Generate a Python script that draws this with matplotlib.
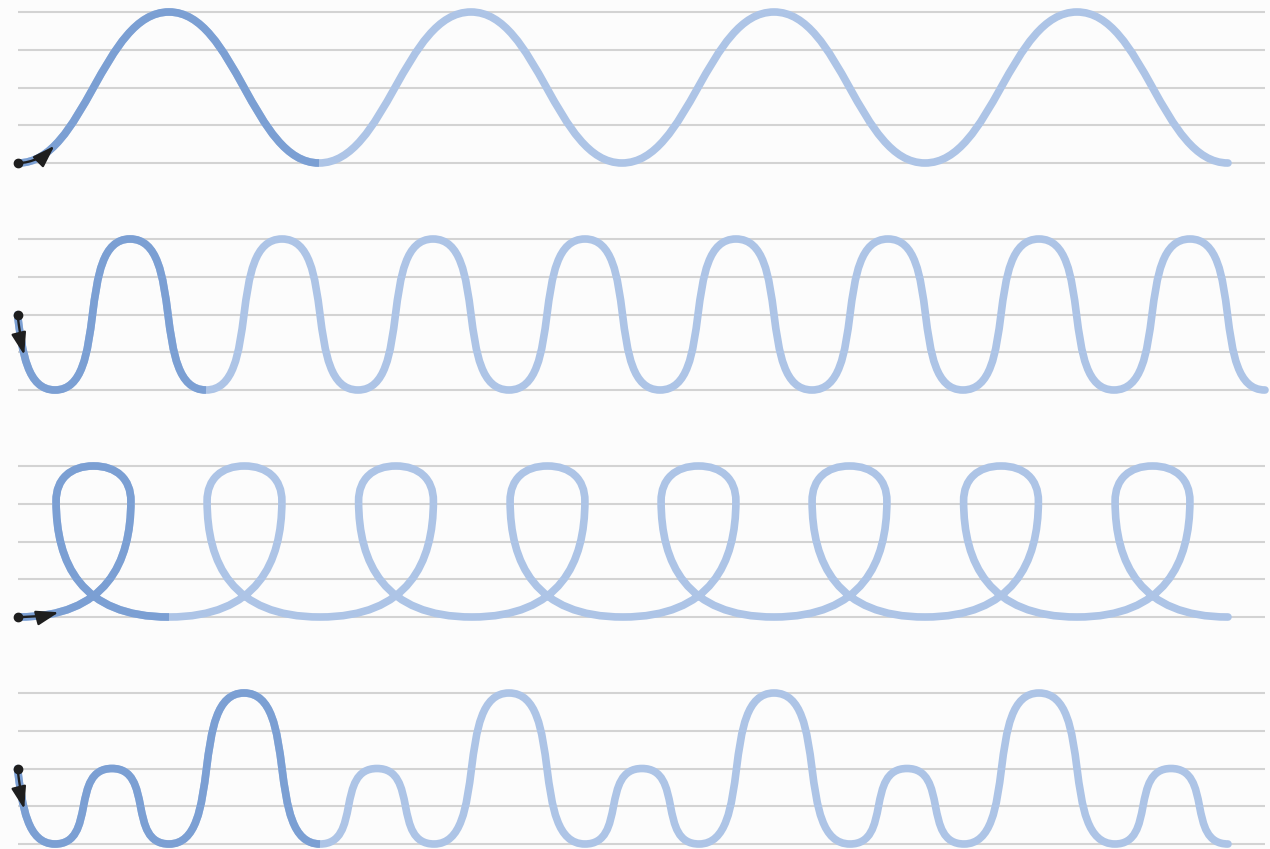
import numpy as np
import matplotlib
matplotlib.use("Agg")
import matplotlib.pyplot as plt
from matplotlib.path import Path
from matplotlib.patches import PathPatch, FancyArrowPatch

# ---------------- data (x in pixels, y in ruled-line units 0..4) ----------------
row_base = [163, 390, 617, 844]          # pixel y of each row's bottom rule
line_levels = [0, 1, 2, 3, 4]

row1_knot_x = [18, 169, 319, 471, 622, 774, 925, 1077, 1228]
row1_knot_y = [0, 4, 0, 4, 0, 4, 0, 4, 0]

row2_knot_x = [-20, 55, 130, 206, 282, 358, 433, 509, 585, 660, 736, 812,
               888, 963, 1039, 1114, 1190, 1265]
row2_knot_y = [4, 0, 4, 0, 4, 0, 4, 0, 4, 0, 4, 0, 4, 0, 4, 0, 4, 0]

row3_loop_x = [18, 169, 320, 472, 623, 774, 925, 1077, 1228]

row4_knot_x = [-20, 55, 112, 169, 244, 320, 377, 434, 509, 585, 642, 699,
               774, 850, 907, 964, 1039, 1115, 1171, 1228]
row4_knot_y = [4, 0, 2, 0, 4, 0, 2, 0, 4, 0, 2, 0, 4, 0, 2, 0, 4, 0, 2, 0]

# number of leading segments drawn in the darker colour
row1_dark = 2
row2_dark = 3
row3_dark = 1
row4_dark = 5

# ---------------- style ----------------
GAP = 37.75
BG = "#fcfcfc"
RULE = "#d3d3d3"
DARK = "#7b9fd3"
LIGHT = "#adc4e6"
LW = 5.5

fig = plt.figure(figsize=(12.7, 8.49), dpi=100, facecolor=BG)
ax = fig.add_axes([0, 0, 1, 1])
ax.set_facecolor(BG)
ax.set_xlim(0, 1270)
ax.set_ylim(849, 0)
ax.axis("off")


def split_at(seg, t):
    p0, p1, p2, p3 = [np.asarray(p, float) for p in seg]
    p01 = p0 + (p1 - p0) * t
    p12 = p1 + (p2 - p1) * t
    p23 = p2 + (p3 - p2) * t
    p012 = p01 + (p12 - p01) * t
    p123 = p12 + (p23 - p12) * t
    m = p012 + (p123 - p012) * t
    return [p0, p01, p012, m], [m, p123, p23, p3]


def arch_segments(xs, ys, base, a, lead_in):
    segs = []
    for i in range(len(xs) - 1):
        x0, x1 = xs[i], xs[i + 1]
        y0, y1 = base - ys[i] * GAP, base - ys[i + 1] * GAP
        d = (x1 - x0) * a
        segs.append([(x0, y0), (x0 + d, y0), (x1 - d, y1), (x1, y1)])
    if lead_in:
        segs[0] = split_at(segs[0], 0.5)[1]
    return segs


def loop_segments(xs, base):
    R, side_h, top_h = 37.4, 116.0, 151.0
    h1, h2, k, kx = 88.0, 62.0, 22.0, 23.0
    segs = []
    b = base
    for i in range(len(xs) - 1):
        x0, x1 = xs[i], xs[i + 1]
        c = (x0 + x1) / 2
        segs.append([(x0, b), (x0 + h1, b), (c + R, b - side_h + h2), (c + R, b - side_h)])
        segs.append([(c + R, b - side_h), (c + R, b - side_h - k), (c + kx, b - top_h), (c, b - top_h)])
        segs.append([(c, b - top_h), (c - kx, b - top_h), (c - R, b - side_h - k), (c - R, b - side_h)])
        segs.append([(c - R, b - side_h), (c - R, b - side_h + h2), (x1 - h1, b), (x1, b)])
    return segs


def to_path(segs):
    verts = [segs[0][0]]
    codes = [Path.MOVETO]
    for s in segs:
        verts += [s[1], s[2], s[3]]
        codes += [Path.CURVE4] * 3
    return Path(np.array(verts, float), codes)


def draw_row(segs, n_dark):
    ax.add_patch(PathPatch(to_path(segs), fill=False, edgecolor=LIGHT, lw=LW,
                           capstyle="round", joinstyle="round", zorder=3))
    ax.add_patch(PathPatch(to_path(segs[:n_dark]), fill=False, edgecolor=DARK, lw=LW,
                           capstyle="butt", joinstyle="round", zorder=4))
    # start arrow following the curve
    first = segs[0]
    ts = np.linspace(0, 1, 400)
    pts = np.array([split_at(first, t)[0][3] for t in ts])
    dist = np.concatenate([[0], np.cumsum(np.hypot(*np.diff(pts, axis=0).T))])
    t_end = ts[np.searchsorted(dist, 41)]
    sub = split_at(first, t_end)[0]
    arr = FancyArrowPatch(path=Path(np.array(sub, float),
                                    [Path.MOVETO, Path.CURVE4, Path.CURVE4, Path.CURVE4]),
                          arrowstyle="-|>,head_length=1.35,head_width=0.45",
                          mutation_scale=10, color="#1e1e1e", lw=1.7, zorder=6)
    ax.add_patch(arr)
    ax.plot([first[0][0]], [first[0][1]], "o", color="#1e1e1e", ms=6, zorder=7)


# ruled lines
for base in row_base:
    for lv in line_levels:
        ax.plot([18, 1265], [base - lv * GAP] * 2, color=RULE, lw=1.5, zorder=1,
                solid_capstyle="butt")

draw_row(arch_segments(row1_knot_x, row1_knot_y, row_base[0], 0.44, False), row1_dark)
draw_row(arch_segments(row2_knot_x, row2_knot_y, row_base[1], 0.74, True), row2_dark)
draw_row(loop_segments(row3_loop_x, row_base[2]), row3_dark * 4)
draw_row(arch_segments(row4_knot_x, row4_knot_y, row_base[3], 0.74, True), row4_dark)

fig.savefig("out.png", dpi=100, facecolor=BG)
